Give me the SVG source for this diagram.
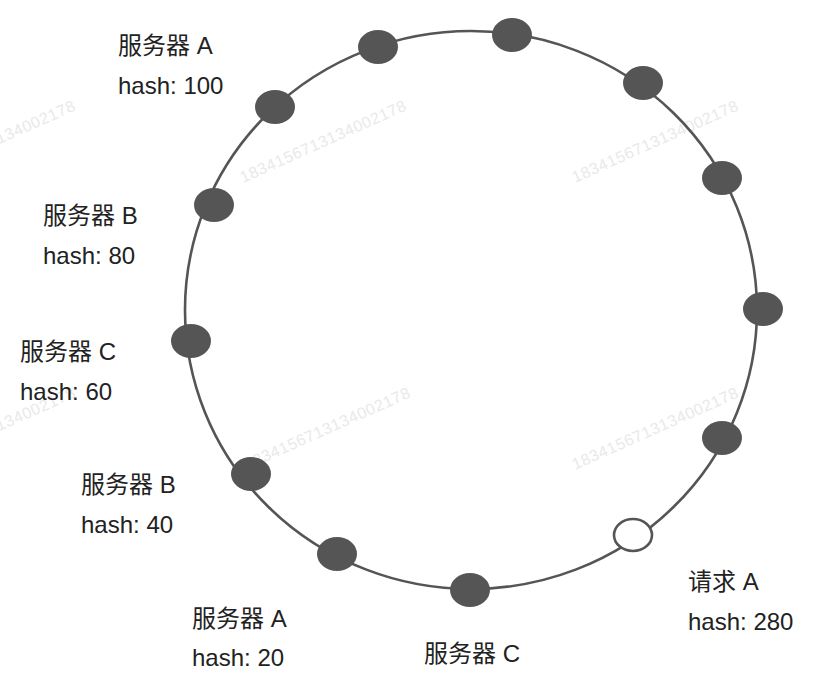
<svg xmlns="http://www.w3.org/2000/svg" width="820" height="678" viewBox="0 0 820 678">
  <style>
    .wm { font-family: "Liberation Sans", Arial, sans-serif; font-size: 16px; fill: #e9e9e9; }
    .lbl { font-family: "Liberation Sans", "Noto Sans CJK SC", sans-serif; font-size: 24px; fill: #222; }
    .ring { fill: none; stroke: #555; stroke-width: 2.6; }
    .srv { fill: #555; }
    .req { fill: #fff; stroke: #555; stroke-width: 2.6; }
  </style>
  <rect width="820" height="678" fill="#fff"/>
  <g id="watermarks">
    <text class="wm" x="-88" y="183" textLength="180" transform="rotate(-24 -88 183)">1834156713134002178</text>
    <text class="wm" x="243" y="183" textLength="180" transform="rotate(-24 243 183)">1834156713134002178</text>
    <text class="wm" x="575" y="183" textLength="180" transform="rotate(-24 575 183)">1834156713134002178</text>
    <text class="wm" x="-88" y="470" textLength="180" transform="rotate(-24 -88 470)">1834156713134002178</text>
    <text class="wm" x="247" y="470" textLength="180" transform="rotate(-24 247 470)">1834156713134002178</text>
    <text class="wm" x="575" y="470" textLength="180" transform="rotate(-24 575 470)">1834156713134002178</text>
  </g>
  <g id="connectors">
    <ellipse class="ring" cx="471" cy="310" rx="286" ry="279"/>
  </g>
  <g id="node-1"><ellipse class="srv" cx="512" cy="35" rx="20" ry="17"/></g>
  <g id="node-2"><ellipse class="srv" cx="643" cy="83" rx="20" ry="17"/></g>
  <g id="node-3"><ellipse class="srv" cx="722" cy="178" rx="20" ry="17"/></g>
  <g id="node-4"><ellipse class="srv" cx="763" cy="309" rx="20" ry="17"/></g>
  <g id="node-5"><ellipse class="srv" cx="722" cy="438" rx="20" ry="17"/></g>
  <g id="request-a"><ellipse class="req" cx="633" cy="535" rx="19" ry="16"/></g>
  <g id="server-c-bottom"><ellipse class="srv" cx="470" cy="590" rx="20" ry="17"/></g>
  <g id="server-a-20"><ellipse class="srv" cx="337" cy="554" rx="20" ry="17"/></g>
  <g id="server-b-40"><ellipse class="srv" cx="251" cy="474" rx="20" ry="17"/></g>
  <g id="server-c-60"><ellipse class="srv" cx="191" cy="341" rx="20" ry="17"/></g>
  <g id="server-b-80"><ellipse class="srv" cx="214" cy="205" rx="20" ry="17"/></g>
  <g id="server-a-100"><ellipse class="srv" cx="275" cy="107" rx="20" ry="17"/></g>
  <g id="node-top-left"><ellipse class="srv" cx="378" cy="47" rx="20" ry="17"/></g>
  <g id="labels">
    <text class="lbl" x="118" y="54">服务器 A</text>
    <text class="lbl" x="118" y="94">hash: 100</text>
    <text class="lbl" x="43" y="224">服务器 B</text>
    <text class="lbl" x="43" y="264">hash: 80</text>
    <text class="lbl" x="20" y="360">服务器 C</text>
    <text class="lbl" x="20" y="400">hash: 60</text>
    <text class="lbl" x="81" y="493">服务器 B</text>
    <text class="lbl" x="81" y="533">hash: 40</text>
    <text class="lbl" x="192" y="627">服务器 A</text>
    <text class="lbl" x="192" y="666">hash: 20</text>
    <text class="lbl" x="424" y="662">服务器 C</text>
    <text class="lbl" x="688" y="590">请求 A</text>
    <text class="lbl" x="688" y="630">hash: 280</text>
  </g>
</svg>
